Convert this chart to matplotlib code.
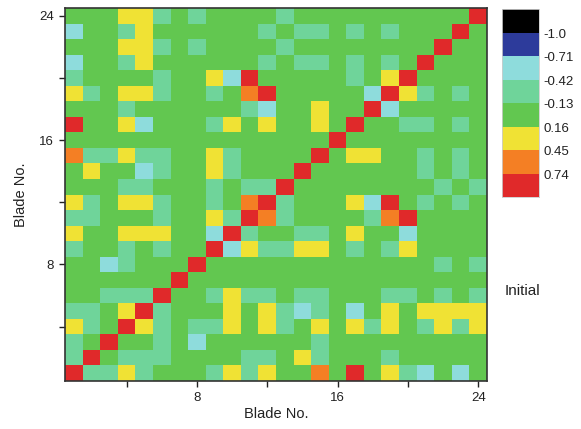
import numpy as np
import matplotlib.pyplot as plt
from matplotlib.colors import ListedColormap, BoundaryNorm

plt.rcParams['font.family'] = ['Liberation Sans', 'DejaVu Sans']

# correlation levels used in the map
D, R, O, Y, G, T, C = 1.0, 0.85, 0.6, 0.3, 0.0, -0.27, -0.55

# rows listed from blade 24 (top) down to blade 1 (bottom)
corr_rows = [
    [G, G, G, Y, Y, T, G, T, G, G, G, G, T, G, G, G, G, G, G, G, G, G, G, D],  # 24
    [C, G, G, T, Y, G, G, G, G, G, G, T, G, T, T, G, T, G, T, G, G, G, D, G],  # 23
    [G, G, G, Y, Y, T, G, T, G, G, G, G, T, G, G, G, G, G, G, G, G, D, G, G],  # 22
    [C, G, G, T, Y, G, G, G, G, G, G, T, G, T, T, G, T, G, T, G, D, G, G, G],  # 21
    [T, G, G, G, G, T, G, G, Y, C, R, G, G, G, G, G, T, G, Y, D, G, G, G, G],  # 20
    [Y, T, G, Y, Y, T, G, G, T, G, O, R, G, G, G, G, G, C, D, Y, T, G, T, G],  # 19
    [G, G, G, T, G, G, G, G, G, G, T, C, G, G, Y, G, G, D, C, G, G, G, G, G],  # 18
    [R, G, G, Y, C, G, G, G, T, Y, G, Y, G, G, Y, G, D, G, G, T, T, G, T, G],  # 17
    [G, G, G, G, G, G, G, G, G, G, G, G, G, G, G, D, G, G, G, G, G, G, G, G],  # 16
    [O, T, T, Y, T, T, G, G, Y, T, G, G, G, G, D, G, Y, Y, G, G, T, G, T, G],  # 15
    [G, Y, G, G, C, T, G, G, Y, T, G, G, G, D, G, G, G, G, G, G, T, G, T, G],  # 14
    [G, G, G, T, T, G, G, G, T, G, T, T, D, G, G, G, G, G, G, G, G, T, G, T],  # 13
    [Y, T, G, Y, Y, T, G, G, T, G, O, D, T, G, G, G, Y, C, R, G, T, G, T, G],  # 12
    [T, T, G, G, G, T, G, G, Y, T, D, O, T, G, G, G, G, T, O, R, G, G, G, G],  # 11
    [Y, G, G, Y, Y, Y, G, G, C, D, T, G, G, T, T, G, Y, G, G, C, G, G, G, G],  # 10
    [T, G, G, T, G, T, G, G, D, C, Y, T, T, Y, Y, G, T, G, T, Y, G, G, G, G],  # 9
    [G, G, C, T, G, G, G, D, G, G, G, G, G, G, G, G, G, G, G, G, G, T, G, T],  # 8
    [G, G, G, G, G, G, D, G, G, G, G, G, G, G, G, G, G, G, G, G, G, G, G, G],  # 7
    [G, G, T, T, T, D, G, G, T, Y, T, T, G, T, T, G, G, G, T, T, G, T, G, T],  # 6
    [T, T, G, Y, D, T, G, G, G, Y, G, Y, T, C, T, G, C, G, Y, G, Y, Y, Y, Y],  # 5
    [Y, T, G, D, Y, T, G, T, T, Y, G, Y, T, G, Y, G, Y, T, Y, G, T, Y, T, Y],  # 4
    [T, G, D, G, G, T, G, C, G, G, G, G, G, G, T, G, G, G, G, G, G, G, G, G],  # 3
    [T, D, G, T, T, T, G, G, G, G, T, T, G, Y, T, G, G, G, T, G, G, G, G, G],  # 2
    [D, T, T, Y, T, G, G, G, T, Y, T, Y, G, G, O, G, R, G, Y, T, C, G, C, G],  # 1
]
corr = np.array(corr_rows[::-1])

levels = [-1.3, -1.0, -0.71, -0.42, -0.13, 0.16, 0.45, 0.74, 1.03]
level_labels = ['-1.0', '-0.71', '-0.42', '-0.13', '0.16', '0.45', '0.74']
colors = ['#000000', '#2d3b9b', '#8edcdc', '#6fd49a', '#62c750',
          '#f0e234', '#f47f24', '#e0292a']
cmap = ListedColormap(colors)
norm = BoundaryNorm(levels, cmap.N)

fig = plt.figure(figsize=(5.81, 4.29), dpi=100)
ax = fig.add_axes([65/581, 1-381/429, 422/581, 373/429])
ax.pcolormesh(np.arange(0.5, 25.5), np.arange(0.5, 25.5), corr,
              cmap=cmap, norm=norm)
ax.set_xlim(0.5, 24.5)
ax.set_ylim(0.5, 24.5)

ticks = [4, 8, 12, 16, 20, 24]
ticklabels = ['', '8', '', '16', '', '24']
ax.set_xticks(ticks)
ax.set_xticklabels(ticklabels)
ax.set_yticks(ticks)
ax.set_yticklabels(ticklabels)
ax.tick_params(direction='out', length=4, width=1, labelsize=9.5,
               colors='#222222', pad=4)
for s in ax.spines.values():
    s.set_color('#333333')
    s.set_linewidth(1.2)
ax.set_xlabel('Blade No.', fontsize=10.5, color='#222222', labelpad=2)
ax.set_ylabel('Blade No.', fontsize=10.5, color='#222222', labelpad=8)

# discrete colour scale, black box on top
n = len(colors)
cax = fig.add_axes([502/581, 1-197/429, 37/581, 188/429])
cax.pcolormesh([0, 1], np.arange(n + 1),
               (n - 1 - np.arange(n)).reshape(-1, 1) + 0.5,
               cmap=cmap, norm=BoundaryNorm(np.arange(n + 1), n))
cax.set_xlim(0, 1)
cax.set_ylim(0, n)
cax.set_xticks([])
cax.set_yticks([])
for s in cax.spines.values():
    s.set_color('#cccccc')
    s.set_linewidth(0.6)
for i, lab in enumerate(level_labels):
    cax.text(1.12, n - 1.1 - i, lab, transform=cax.transData,
             ha='left', va='center', fontsize=9.5, color='#222222')

fig.text(505/581, 1-291/429, 'Initial', fontsize=11, color='#222222',
         ha='left', va='center')

fig.savefig('out.png', dpi=100)
